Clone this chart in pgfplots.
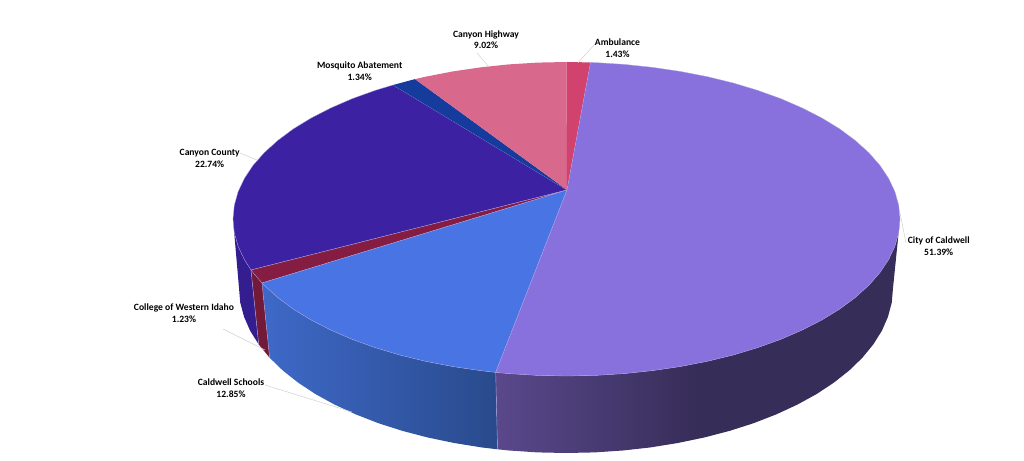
\documentclass[border=0pt]{standalone}
\usepackage{fontspec}
\setmainfont{Carlito}
\usepackage{pgfplots}
\pgfplotsset{compat=1.18}
\definecolor{cCity}{RGB}{136,112,221}
\definecolor{cAmb}{RGB}{209,66,110}
\definecolor{cHwy}{RGB}{217,104,141}
\definecolor{cMos}{RGB}{21,60,156}
\definecolor{cCou}{RGB}{60,34,163}
\definecolor{cCol}{RGB}{133,28,66}
\definecolor{cSch}{RGB}{72,116,228}
\definecolor{sCou}{RGB}{52,30,143}
\definecolor{sCol}{RGB}{115,26,56}
\definecolor{sCityA}{RGB}{90,72,140}
\definecolor{sCityB}{RGB}{54,45,88}
\definecolor{sSchA}{RGB}{62,105,200}
\definecolor{sSchB}{RGB}{41,74,140}
\definecolor{edge}{RGB}{175,165,225}
\definecolor{leader}{RGB}{208,208,208}
\pgfdeclarehorizontalshading{cityside}{100bp}{color(0bp)=(sCityA); color(25bp)=(sCityA); color(50bp)=(sCityB); color(100bp)=(sCityB)}
\pgfdeclarehorizontalshading{schside}{100bp}{color(0bp)=(sSchA); color(25bp)=(sSchA); color(75bp)=(sSchB); color(100bp)=(sSchB)}
\tikzset{lab/.style={font=\fontsize{9.6}{11.7}\selectfont\bfseries, align=center, text=black, inner sep=0pt}}
\begin{document}
\begin{tikzpicture}
\begin{axis}[
  scale only axis, width=1024pt, height=460pt,
  xmin=0, xmax=1024, ymin=0, ymax=460, y dir=reverse,
  hide axis, clip=false, no markers,
  every axis plot/.append style={forget plot, solid},
]
\path (axis cs:0,0) rectangle (axis cs:1024,460);
% side walls
\addplot[shade, shading=cityside, draw=none] coordinates {
(495.7,372.4)(508.6,373.6)(537.4,375.4)(566.5,376)(595.6,375.4)(624.4,373.6)(652.8,370.6)(680.6,366.5)(707.4,361.3)(733.3,355)(757.8,347.6)(780.9,339.3)(802.3,330)(822,319.9)(839.7,309.1)(855.3,297.5)(868.8,285.3)(879.9,272.7)(888.6,259.6)(894.9,246.3)(898.7,232.7)(900,219)
(893,288)(891.8,302.4)(888,316.7)(881.9,330.7)(873.3,344.4)(862.4,357.7)(849.2,370.5)(833.9,382.6)(816.5,394.1)(797.2,404.7)(776.2,414.4)(753.6,423.2)(729.5,430.9)(704.2,437.5)(677.8,443)(650.6,447.4)(622.8,450.5)(594.5,452.4)(566,453)(537.5,452.4)(509.2,450.5)(497.5,449.3)
} -- cycle;
\addplot[shade, shading=schside, draw=none] coordinates {
(262,283)(264.2,285.3)(277.7,297.5)(293.3,309.1)(311,319.9)(330.7,330)(352.1,339.3)(375.2,347.6)(399.7,355)(425.6,361.3)(452.4,366.5)(480.2,370.6)(495.7,372.4)
(497.5,449.3)(481.4,447.4)(454.2,443)(427.8,437.5)(402.5,430.9)(378.4,423.2)(355.8,414.4)(334.8,404.7)(315.5,394.1)(298.1,382.6)(282.8,370.5)(269.6,357.7)
} -- cycle;
\addplot[fill=sCol, draw=none] coordinates {(251,270)(253.1,272.7)(262,283)(269.6,357.7)(258.7,344.4)} -- cycle;
\addplot[fill=sCou, draw=none] coordinates {(233,219)(234.3,232.7)(238.1,246.3)(244.4,259.6)(251,270)(258.7,344.4)(250.1,330.7)(244,316.7)(240.2,302.4)(239,288)} -- cycle;
% edges between the walls
\addplot[draw=edge, line width=0.4pt] coordinates {(495.7,372.4)(497.5,449.3)};
\addplot[draw=edge, line width=0.4pt] coordinates {(262,283)(269.6,357.7)};
\addplot[draw=edge, line width=0.4pt] coordinates {(251,270)(258.7,344.4)};
% top faces
\addplot[fill=cCou, draw=edge, line width=0.3pt] coordinates {
(567,190)(251,270)(244.4,259.6)(238.1,246.3)(234.3,232.7)(233,219)(234.3,205.3)(238.1,191.7)(244.4,178.4)(253.1,165.3)(264.2,152.7)(277.7,140.5)(293.3,128.9)(311,118.1)(330.7,108)(352.1,98.7)(375.2,90.4)(393,85)
} -- cycle;
\addplot[fill=cMos, draw=none] coordinates {(567,190)(393,85)(415,79.1)} -- cycle;
\addplot[fill=cHwy, draw=none] coordinates {(567,190)(415,79.1)(425.6,76.7)(452.4,71.5)(480.2,67.4)(508.6,64.4)(537.4,62.6)(566.5,62)} -- cycle;
\addplot[fill=cAmb, draw=none] coordinates {(567,190)(566.5,62)(590.5,62.4)} -- cycle;
\addplot[fill=cCol, draw=edge, line width=0.3pt] coordinates {(567,190)(262,283)(253.1,272.7)(251,270)} -- cycle;
\addplot[fill=cSch, draw=edge, line width=0.3pt] coordinates {
(567,190)(495.7,372.4)(480.2,370.6)(452.4,366.5)(425.6,361.3)(399.7,355)(375.2,347.6)(352.1,339.3)(330.7,330)(311,319.9)(293.3,309.1)(277.7,297.5)(264.2,285.3)(262,283)
} -- cycle;
\addplot[fill=cCity, draw=edge, line width=0.3pt] coordinates {
(567,190)(590.5,62.4)(595.6,62.6)(624.4,64.4)(652.8,67.4)(680.6,71.5)(707.4,76.7)(733.3,83)(757.8,90.4)(780.9,98.7)(802.3,108)(822,118.1)(839.7,128.9)(855.3,140.5)(868.8,152.7)(879.9,165.3)(888.6,178.4)(894.9,191.7)(898.7,205.3)(900,219)(898.7,232.7)(894.9,246.3)(888.6,259.6)(879.9,272.7)(868.8,285.3)(855.3,297.5)(839.7,309.1)(822,319.9)(802.3,330)(780.9,339.3)(757.8,347.6)(733.3,355)(707.4,361.3)(680.6,366.5)(652.8,370.6)(624.4,373.6)(595.6,375.4)(566.5,376)(537.4,375.4)(508.6,373.6)(495.7,372.4)
} -- cycle;
% leader lines
\addplot[draw=leader, line width=0.5pt] coordinates {(595,44)(578,62.7)};
\addplot[draw=leader, line width=0.5pt] coordinates {(477,53)(489,67)};
\addplot[draw=leader, line width=0.5pt] coordinates {(240,153)(257,160)};
\addplot[draw=leader, line width=0.5pt] coordinates {(223,329)(265,350)};
\addplot[draw=leader, line width=0.5pt] coordinates {(265,385)(352,412)};
\addplot[draw=leader, line width=0.5pt] coordinates {(900,213)(906,243)};
% labels
\node[lab] at (axis cs:617.5,48.3) {Ambulance\\1.43\%};
\node[lab] at (axis cs:486,39.8) {Canyon Highway\\9.02\%};
\node[lab] at (axis cs:359.7,70.9) {Mosquito Abatement\\1.34\%};
\node[lab] at (axis cs:209.7,158.1) {Canyon County\\22.74\%};
\node[lab] at (axis cs:184,313.1) {College of Western Idaho\\1.23\%};
\node[lab] at (axis cs:231,388.1) {Caldwell Schools\\12.85\%};
\node[lab] at (axis cs:938.7,245.9) {City of Caldwell\\51.39\%};
\end{axis}
\end{tikzpicture}
\end{document}
